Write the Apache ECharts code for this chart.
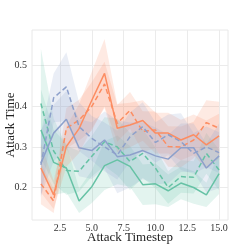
<!DOCTYPE html>
<html><head><meta charset="utf-8">
<script src="https://cdn.jsdelivr.net/npm/echarts@6/dist/echarts.min.js"></script>
<style>html,body{margin:0;padding:0;background:#fff}#c{width:240px;height:252px}</style>
</head><body><div id="c"></div>
<script>
const steps = [1,2,3,4,5,6,7,8,9,10,11,12,13,14,15];
const xTicks = [2.5,5.0,7.5,10.0,12.5,15.0];
const yTicks = [0.2,0.3,0.4,0.5];

const greenSolid  = [0.342,0.262,0.248,0.167,0.202,0.254,0.268,0.252,0.207,0.209,0.192,0.211,0.200,0.182,0.234];
const greenSolidCI= [0.100,0.080,0.060,0.030,0.040,0.060,0.060,0.050,0.050,0.050,0.040,0.040,0.040,0.030,0.050];
const greenDash   = [0.407,0.290,0.242,0.240,0.277,0.313,0.300,0.264,0.284,0.248,0.200,0.227,0.225,0.284,0.243];
const greenDashCI = [0.135,0.080,0.060,0.050,0.050,0.060,0.070,0.070,0.060,0.050,0.040,0.040,0.040,0.050,0.050];
const orangeSolid = [0.248,0.182,0.301,0.345,0.415,0.481,0.346,0.354,0.365,0.334,0.334,0.317,0.330,0.305,0.327];
const orangeSolidCI=[0.060,0.035,0.050,0.060,0.070,0.085,0.060,0.055,0.050,0.050,0.050,0.050,0.050,0.060,0.055];
const orangeDash  = [0.209,0.167,0.346,0.366,0.400,0.455,0.358,0.390,0.338,0.342,0.301,0.300,0.317,0.360,0.346];
const orangeDashCI= [0.050,0.030,0.050,0.050,0.060,0.055,0.045,0.045,0.050,0.045,0.050,0.050,0.045,0.055,0.065];
const blueSolid   = [0.260,0.334,0.368,0.298,0.291,0.317,0.276,0.280,0.291,0.278,0.270,0.298,0.298,0.248,0.278];
const blueSolidCI = [0.080,0.070,0.070,0.070,0.070,0.070,0.090,0.080,0.070,0.070,0.060,0.060,0.060,0.060,0.080];
const blueDash    = [0.256,0.421,0.448,0.350,0.321,0.300,0.280,0.325,0.350,0.311,0.330,0.313,0.284,0.300,0.286];
const blueDashCI  = [0.080,0.060,0.085,0.060,0.055,0.060,0.060,0.060,0.060,0.050,0.050,0.070,0.050,0.050,0.050];

const GREEN='#66c2a5', ORANGE='#fc8d62', BLUE='#8da0cb';
const groups = [
  {m:greenSolid, ci:greenSolidCI, c:GREEN, dash:false},
  {m:greenDash, ci:greenDashCI, c:GREEN, dash:true},
  {m:orangeSolid, ci:orangeSolidCI, c:ORANGE, dash:false},
  {m:orangeDash, ci:orangeDashCI, c:ORANGE, dash:true},
  {m:blueSolid, ci:blueSolidCI, c:BLUE, dash:false},
  {m:blueDash, ci:blueDashCI, c:BLUE, dash:true}
];

const series = [];
groups.forEach(g => {
  const pts = steps.map((s,i)=>[s, g.m[i]-g.ci[i], g.m[i]+g.ci[i]]);
  series.push({
    type:'custom', silent:true, z:1,
    data: pts,
    encode:{x:0, y:[1,2]},
    renderItem: function(params, api){
      if (params.dataIndex !== 0) return null;
      const up = pts.map(p=>api.coord([p[0], p[2]]));
      const lo = pts.map(p=>api.coord([p[0], p[1]])).reverse();
      return {type:'polygon', shape:{points: up.concat(lo)}, style:{fill:g.c, opacity:0.18}};
    }
  });
});
groups.forEach(g => {
  series.push({
    type:'line', z:3, symbol:'none', silent:true,
    data: steps.map((s,i)=>[s,g.m[i]]),
    lineStyle:{color:g.c, width:1.5, type: g.dash ? [5,3] : 'solid'}
  });
});

const font = 'Liberation Serif';
const chart = echarts.init(document.getElementById('c'), null, {renderer:'canvas'});
chart.setOption({
  animation:false,
  backgroundColor:'#fff',
  grid:{left:32, right:12, top:30, bottom:32, show:true, borderColor:'#e8e8e8', borderWidth:1,
        containLabel:false, outerBoundsMode:'none'},
  xAxis:{
    type:'value', min:0.3, max:15.7,
    name:'Attack Timestep', nameLocation:'middle', nameGap:11, nameMoveOverlap:false,
    nameTextStyle:{fontFamily:font, fontSize:13, color:'#222'},
    axisLine:{show:false}, axisTick:{show:false, customValues:xTicks},
    axisLabel:{customValues:xTicks, fontFamily:font, fontSize:10, color:'#333', margin:3,
      formatter:v=>v.toFixed(1)},
    splitLine:{show:true, lineStyle:{color:'#ebebeb', width:1}, customValues:xTicks}
  },
  yAxis:{
    type:'value', min:0.12, max:0.588,
    name:'Attack Time', nameLocation:'middle', nameGap:15, nameMoveOverlap:false,
    nameTextStyle:{fontFamily:font, fontSize:13, color:'#222'},
    axisLine:{show:false}, axisTick:{show:false, customValues:yTicks},
    axisLabel:{customValues:yTicks, fontFamily:font, fontSize:10, color:'#333', margin:5,
      formatter:v=>v.toFixed(1)},
    splitLine:{show:true, lineStyle:{color:'#ebebeb', width:1}, customValues:yTicks}
  },
  series: series
});
</script></body></html>
